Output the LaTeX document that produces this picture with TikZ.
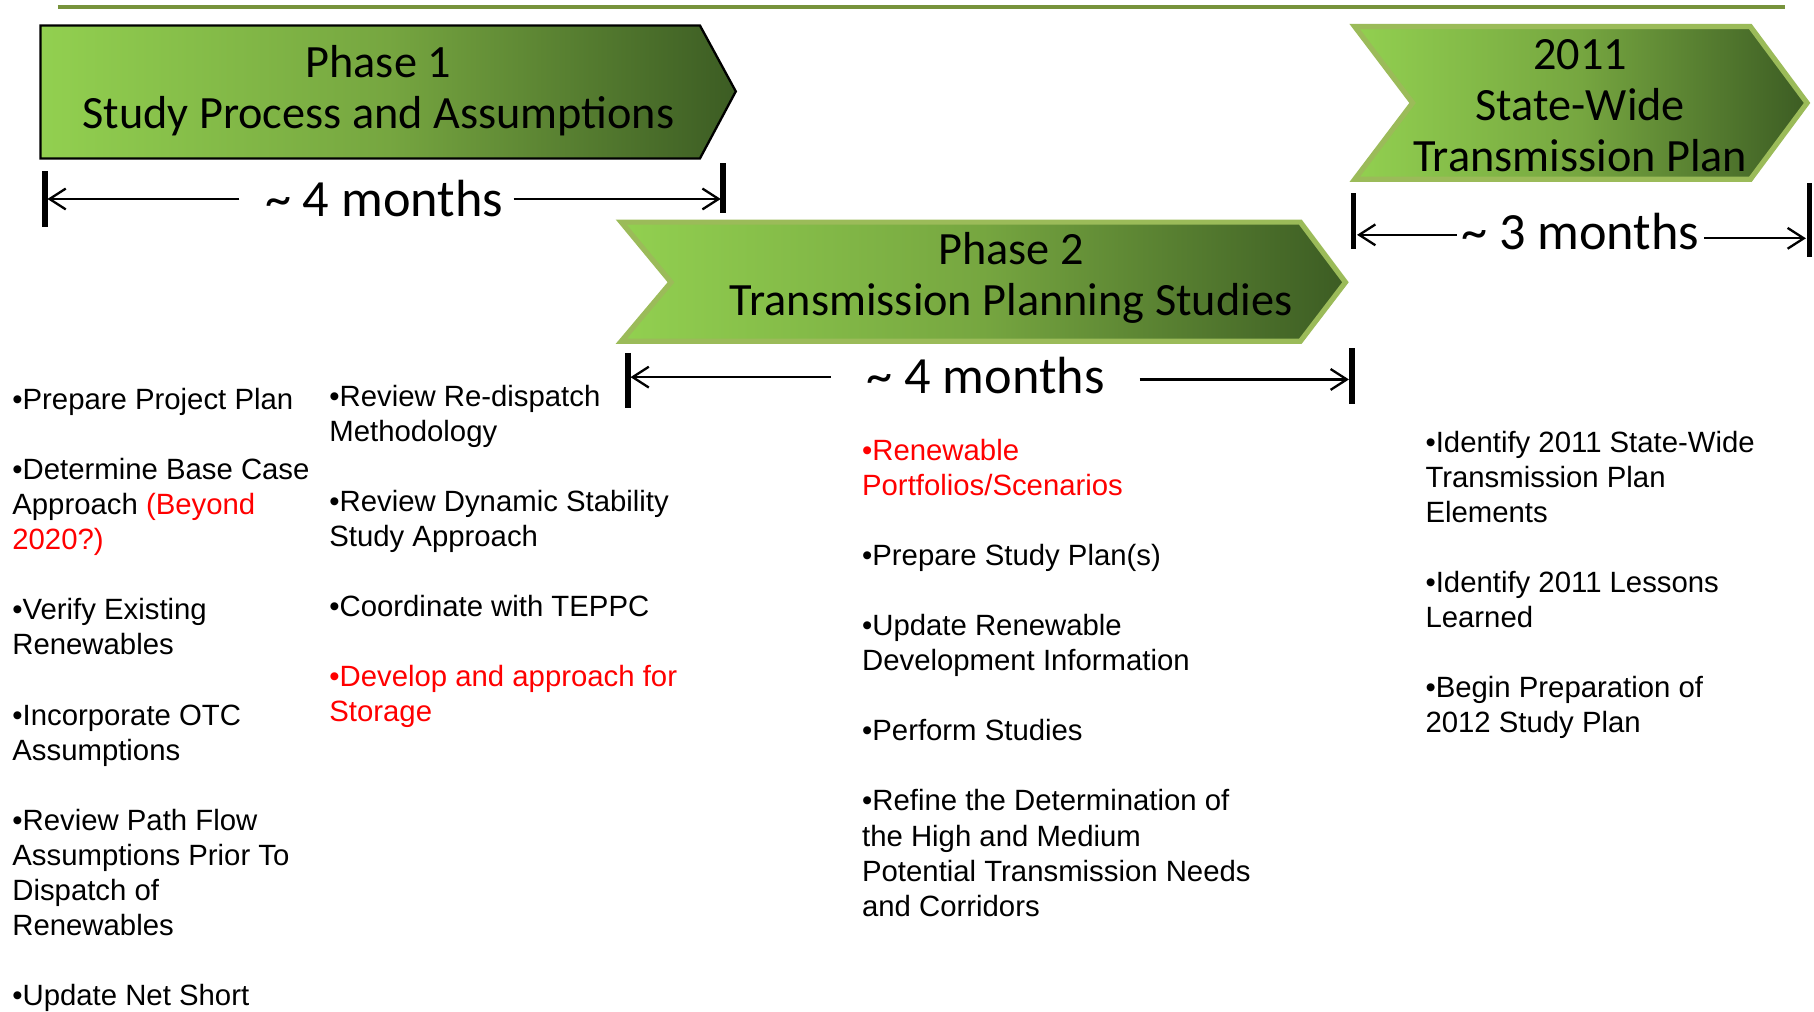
\documentclass[tikz,border=0pt]{standalone}
\usepackage{fontspec}
\setmainfont{Liberation Sans}
\newfontfamily\calib{Carlito}
\usetikzlibrary{arrows.meta}
\definecolor{lightg}{RGB}{146,208,80}
\definecolor{midg}{RGB}{118,166,64}
\definecolor{darkg}{RGB}{60,92,35}
\definecolor{rimg}{RGB}{155,187,89}
\definecolor{topline}{RGB}{119,147,60}
\definecolor{txtred}{RGB}{255,0,0}
\newcommand\ctrlines[1]{\vtop{\halign{\hfil##\hfil\cr#1\crcr}}}
\newcommand\leftlines[1]{\vtop{\halign{##\hfil\cr#1\crcr}}}
\begin{document}
\begin{tikzpicture}[x=1pt,y=-1pt,
  phasebox/.style={left color=lightg, right color=darkg, middle color=midg},
  phasetitle/.style={font=\calib\fontsize{40}{44}\selectfont, anchor=base, inner sep=0pt},
  durlabel/.style={font=\calib\fontsize{45.2}{50}\selectfont, anchor=base, inner sep=0pt},
  durline/.style={line width=2pt, -{Straight Barb[length=14pt,width=18pt]}},
  durbar/.style={line width=5pt},
  bullets/.style={font=\fontsize{25.35}{30.3}\selectfont, anchor=base west, inner sep=0pt}]
\useasboundingbox (0,0) rectangle (1568,874);

% top rule
\draw[topline, line width=4pt] (50,6) -- (1543,6);

% phase shapes
\path[phasebox, draw=black, line width=2pt, line join=miter]
  (35,22) -- (605,22) -- (636,79) -- (605,137) -- (35,137) -- cycle;
\path[phasebox, draw=rimg, line width=4.5pt, line join=miter]
  (537,192) -- (1124,192) -- (1163,244) -- (1124,295) -- (537,295) -- (580,244) -- cycle;
\path[phasebox, draw=rimg, line width=4.5pt, line join=miter]
  (1171,23) -- (1513,23) -- (1562,89) -- (1513,155) -- (1171,155) -- (1221,89) -- cycle;

% titles
\node[phasetitle] (p1) at (327,67) {\ctrlines{Phase 1\cr Study Process and Assumptions}};
\node[phasetitle] (p2) at (874,229) {\ctrlines{Phase 2\cr Transmission Planning Studies}};
\node[phasetitle] (p3) at (1366,60) {\ctrlines{2011\cr State-Wide\cr Transmission Plan}};

% duration 1
\node[durlabel] (d1) at (332,187) {\textasciitilde\ 4 months};
\coordinate (d1ls) at (207,172); \coordinate (d1le) at (41,172);
\coordinate (d1rs) at (444,172); \coordinate (d1re) at (623,172);
\draw[durline] (d1ls) -- (d1le);
\draw[durline] (d1rs) -- (d1re);
\draw[durbar] (39,148) -- (39,196);
\draw[durbar] (625,141) -- (625,184);

% duration 2
\node[durlabel] (d2) at (852,340) {\textasciitilde\ 4 months};
\coordinate (d2ls) at (718,326); \coordinate (d2le) at (545,326);
\coordinate (d2rs) at (985,328); \coordinate (d2re) at (1166,328);
\draw[durline] (d2ls) -- (d2le);
\draw[durline] (d2rs) -- (d2re);
\draw[durbar] (542.5,305) -- (542.5,353);
\draw[durbar] (1168.5,301) -- (1168.5,349);

% duration 3
\node[durlabel] (d3) at (1366,216) {\textasciitilde\ 3 months};
\coordinate (d3ls) at (1259,203); \coordinate (d3le) at (1173,203);
\coordinate (d3rs) at (1473,206); \coordinate (d3re) at (1561,206);
\draw[durline] (d3ls) -- (d3le);
\draw[durline] (d3rs) -- (d3re);
\draw[durbar] (1170,167) -- (1170,215);
\draw[durbar] (1564,158) -- (1564,222);

% bullet columns
\node[bullets] (c1) at (10.5,354) {\leftlines{•Prepare Project Plan\cr\cr
 •Determine Base Case\cr
 Approach \textcolor{txtred}{(Beyond}\cr
 \textcolor{txtred}{2020?)}\cr\cr
 •Verify Existing\cr
 Renewables\cr\cr
 •Incorporate OTC\cr
 Assumptions\cr\cr
 •Review Path Flow\cr
 Assumptions Prior To\cr
 Dispatch of\cr
 Renewables\cr\cr
 •Update Net Short}};

\node[bullets] (c2) at (284.5,351.3) {\leftlines{•Review Re-dispatch\cr
 Methodology\cr\cr
 •Review Dynamic Stability\cr
 Study Approach\cr\cr
 •Coordinate with TEPPC\cr\cr
 \textcolor{txtred}{•Develop and approach for}\cr
 \textcolor{txtred}{Storage}}};

\node[bullets] (c3) at (745,398) {\leftlines{\textcolor{txtred}{•Renewable}\cr
 \textcolor{txtred}{Portfolios/Scenarios}\cr\cr
 •Prepare Study Plan(s)\cr\cr
 •Update Renewable\cr
 Development Information\cr\cr
 •Perform Studies\cr\cr
 •Refine the Determination of\cr
 the High and Medium\cr
 Potential Transmission Needs\cr
 and Corridors}};

\node[bullets] (c4) at (1232,391) {\leftlines{•Identify 2011 State-Wide\cr
 Transmission Plan\cr
 Elements\cr\cr
 •Identify 2011 Lessons\cr
 Learned\cr\cr
 •Begin Preparation of\cr
 2012 Study Plan}};
\end{tikzpicture}
\end{document}
